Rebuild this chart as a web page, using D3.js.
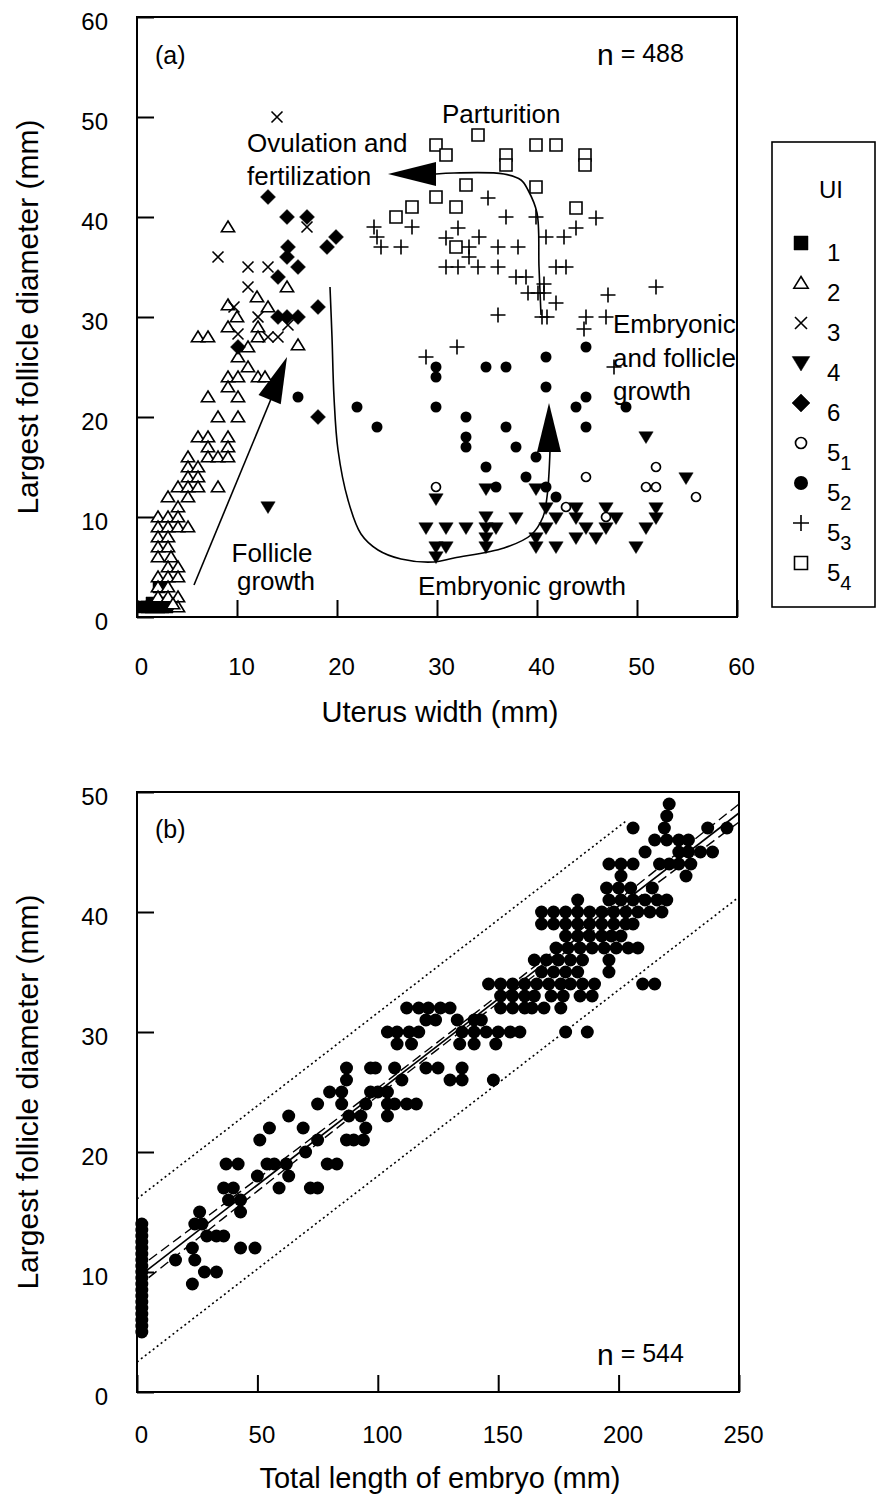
<!DOCTYPE html>
<html>
<head>
<meta charset="utf-8">
<script src="https://d3js.org/d3.v7.min.js"></script>
<style>
  body { margin: 0; background: #fff; }
  svg text { font-family: "Liberation Sans", Arial, sans-serif; fill: #000; }
</style>
</head>
<body>
<div id="chart"></div>
<script>
// ---------------- panel (a) data : [uterus width, largest follicle] ----------------
var ui1 = [[0.6,1],[1.0,1],[1.4,1],[1.8,1],[2.2,1],[2.6,1],[3.0,1],[3.3,1.2],[1.5,1.4],[2.0,1.3],[2.5,1.4],[2.2,3],[2.7,3.2]];
var ui2 = [[9.1,39],[15,33],[12,32],[9.1,31.2],[13.1,31],[10,30],[12.1,29],[9.1,29],[6.1,28],[7.1,28],
  [12.1,28],[16.1,27.2],[11.1,27],[10.1,26],[11.1,25],[9.1,24],[10.1,24],[12.1,24],[12.8,24],[9.1,23],
  [7.1,22],[10.1,22],[8.1,20],[10.1,20],[6.1,18],[7.1,18],[9.1,18],[7.1,17],[9.1,17],[5.1,16],
  [7.1,16],[8.1,16],[9.1,16],[5.1,15],[6.1,15],[5.1,14],[6.1,14],[4.1,13],[5.1,13],[6.1,13],
  [8.1,13],[3.1,12],[5.1,12],[4.1,11],[2.1,10],[3.1,10],[4.1,10],[2.1,9],[3.1,9],[4.1,9],
  [5.1,9],[2.1,8],[3.1,8],[2.1,7],[3.1,7],[2.1,6],[3.4,6],[3.1,5],[4.1,5],[2.1,4],
  [3.1,4],[4.1,4],[2.1,3],[3.1,3],[2.1,2],[3.1,2],[4.1,2],[4.1,1],[3.6,1.3]];
var ui3 = [[14,50],[8.1,36],[17,39],[11.1,35],[13.1,35],[11.1,33],[9.7,31],[12.1,30],[10.1,28.3],
  [13.1,28],[14.1,28],[15.1,29.2]];
var ui4 = [[13.1,11],[50.9,18],[54.9,13.9],[34.9,12.8],[39.9,12.8],[29.9,11.8],[40.9,10.9],[43.9,10.9],
  [46.9,10.9],[51.9,10.9],[34.9,10],[37.9,9.9],[41.9,9.9],[43.9,9.9],[47.9,9.9],[51.9,9.9],[28.9,8.9],
  [30.9,8.9],[32.9,8.9],[34.9,8.9],[35.9,8.9],[40.9,8.9],[44.9,8.9],[46.9,8.9],[50.9,8.9],[39.9,7.9],
  [43.9,7.9],[45.9,7.9],[34.9,7.9],[29.9,7],[30.9,7],[34.9,7],[39.9,7],[41.9,7],[49.9,7],[29.9,6]];
var ui6 = [[13.1,42],[15,40],[17,40],[15.1,37],[15,36],[16.1,35],[19.9,38],[19,37],[14.1,34],[18.1,31],
  [14.1,30],[15,30],[16.1,30],[10.1,27],[18.1,20]];
var ui5_1 = [[29.9,13],[44.9,14],[51.9,15],[50.9,13],[51.9,13],[55.9,12],[42.9,11],[46.9,10]];
var ui5_2 = [[16.1,22],[22,21],[24,19],[29.9,25],[29.9,24],[34.9,25],[36.9,25],[40.9,26],[44.9,27],
  [40.9,23],[29.9,21],[44.9,22],[43.9,21],[48.9,21],[32.9,20],[32.9,18],[32.9,17],[36.9,19],[44.9,19],
  [37.9,17],[39.9,16],[34.9,15],[38.9,14],[35.9,13],[40.9,13],[41.9,12]];
var ui5_3 = [[23.7,39],[24,38],[24.4,37],[26.4,37],[27.5,39],[35.1,41.9],[36.9,40],[39.9,40],[45.9,39.9],
  [32.1,38.9],[30.9,37.9],[34.2,38],[33.2,37],[36.1,37],[38.1,37],[40.9,38],[42.7,38],[43.9,38.9],
  [30.9,35],[32.1,35],[34.1,35],[36.1,35],[33.2,36],[37.9,34],[38.9,34],[41.9,35],[42.9,35],[39.1,32.4],
  [40.1,32.4],[40.7,32.4],[40.7,33.3],[41.9,31.4],[47.1,32.2],[51.9,33],[36.1,30.2],[40.5,30],[41,30],
  [44.9,30],[46.9,30],[44.7,28.8],[28.9,26],[32,27],[47.7,25]];
var ui5_4 = [[34.1,48.2],[29.9,47.2],[30.9,46.2],[36.9,46.2],[36.9,45.2],[39.9,47.2],[41.9,47.2],[44.8,46.2],
  [44.8,45.2],[39.9,43],[32.9,43.2],[29.9,42],[31.9,41],[43.9,40.9],[25.9,40],[27.5,41],[31.9,37]];

// legend labels (main digit, subscript)
var legendLabels = [["1",""],["2",""],["3",""],["4",""],["6",""],["5","1"],["5","2"],["5","3"],["5","4"]];
var ticksA = [0, 10, 20, 30, 40, 50, 60];

// ---------------- panel (b) data : [total length of embryo, largest follicle] ----------------
var panelB = [
  [2,5],[2,6],[2,7],[2,8],[2,9],[2,10],[2,11],[2,12],[2,13],[2,14],[2,5.5],[2,6.5],[2,7.5],[2,8.5],[2,9.5],[2,10.5],[2,11.5],[2,12.5],[2,13.5],
  [221,49],[220,48],[206,47],[219,47],[237,47],[245,47],
  [215,46],[220,46],[225,46],[229,46],
  [211,45],[225,45],[229,45],[234,45],[239,45],
  [196,44],[201,44],[206,44],[217,44],[221,44],[225,44],[230,44],
  [201,43],[228,43],
  [195,42],[200,42],[205,42],[214,42],
  [183,41],[196,41],[201,41],[206,41],[211,41],[216,41],[220,41],
  [168,40],[173,40],[178,40],[183,40],[188,40],[193,40],[198,40],[203,40],[208,40],[213,40],[218,40],
  [168,39],[173,39],[178,39],[183,39],[188,39],[193,39],[198,39],[203,39],[206,39],
  [178,38],[183,38],[188,38],[193,38],[197,38],[201,38],
  [174,37],[179,37],[184,37],[189,37],[194,37],[199,37],[204,37],[208,37],
  [165,36],[170,36],[175,36],[180,36],[185,36],[196,36],
  [168,35],[173,35],[178,35],[183,35],[196,35],
  [146,34],[151,34],[156,34],[161,34],[166,34],[171,34],[176,34],[180,34],[185,34],[190,34],[210,34],[215,34],
  [151,33],[156,33],[161,33],[165,33],[172,33],[177,33],[184,33],[189,33],
  [112,32],[117,32],[121,32],[126,32],[130,32],[151,32],[156,32],[161,32],[164,32],[169,32],[176,32],
  [120,31],[124,31],[133,31],[140,31],[143,31],
  [104,30],[108,30],[113,30],[117,30],[135,30],[140,30],[145,30],[150,30],[155,30],[159,30],[178,30],[187,30],
  [108,29],[114,29],[134,29],[140,29],[149,29],
  [87,27],[97,27],[99,27],[107,27],[120,27],[125,27],[135,27],
  [87,26],[110,26],[130,26],[135,26],[148,26],
  [80,25],[85,25],[97,25],[100,25],[104,25],
  [75,24],[85,24],[95,24],[104,24],[107,24],[112,24],[116,24],
  [63,23],[88,23],[93,23],[104,23],
  [55,22],[69,22],[95,22],
  [51,21],[75,21],[87,21],[90,21],[94,21],
  [70,20],
  [37,19],[42,19],[54,19],[57,19],[62,19],[79,19],[83,19],
  [50,18],[63,18],
  [36,17],[40,17],[59,17],[72,17],[75,17],
  [38,16],[43,16],
  [26,15],[43,15],
  [24,14],[27,14],
  [29,13],[33,13],[36,13],
  [23,12],[43,12],[49,12],
  [16,11],[24,11],
  [28,10],[33,10],
  [23,9]
];
var ticksBx = [0, 50, 100, 150, 200, 250];
var ticksBy = [0, 10, 20, 30, 40, 50];

// fitted line, confidence and prediction bands
var fitIntercept = 9.5, fitSlope = 0.155;
var ciMid = 0.3, ciEnd = 0.75;
var piUpper = 6.6, piLower = -7.0, piUpperEnd = 203;

// ---------------- svg ----------------
var svg = d3.select("#chart").append("svg")
  .attr("width", 878)
  .attr("height", 1501);

var fontFamily = '"Liberation Sans", Arial, sans-serif';

// scales
var xA = d3.scaleLinear().domain([0, 60]).range([137, 737]);
var yA = d3.scaleLinear().domain([0, 60]).range([617, 17]);
var xB = d3.scaleLinear().domain([0, 250]).range([137, 739]);
var yB = d3.scaleLinear().domain([0, 50]).range([1392, 792]);

// marker shapes, s = half size
function shapePath(type, s) {
  switch (type) {
    case "square":  return "M" + (-s) + "," + (-s) + "h" + 2*s + "v" + 2*s + "h" + (-2*s) + "Z";
    case "triUp":   return "M0," + (-s) + "L" + (s*1.1) + "," + (s*0.8) + "L" + (-s*1.1) + "," + (s*0.8) + "Z";
    case "triDown": return "M0," + s + "L" + (s*1.1) + "," + (-s*0.8) + "L" + (-s*1.1) + "," + (-s*0.8) + "Z";
    case "diamond": return "M0," + (-s) + "L" + s + ",0L0," + s + "L" + (-s) + ",0Z";
    case "cross":   return "M" + (-s) + "," + (-s) + "L" + s + "," + s + "M" + s + "," + (-s) + "L" + (-s) + "," + s;
    case "plus":    return "M" + (-s) + ",0H" + s + "M0," + (-s) + "V" + s;
  }
}

function drawMarker(g, type, filled, s) {
  if (type == "circle") {
    g.append("circle").attr("r", s)
      .attr("fill", filled ? "#000" : "#fff")
      .attr("stroke", "#000").attr("stroke-width", filled ? 0 : 1.7);
  } else {
    var open = (type == "cross" || type == "plus");
    g.append("path").attr("d", shapePath(type, s))
      .attr("fill", open ? "none" : (filled ? "#000" : "#fff"))
      .attr("stroke", "#000")
      .attr("stroke-width", filled ? 0.5 : 1.6);
  }
}

var seriesA = [
  {data: ui1,   type: "square",  filled: true,  s: 6,   ls: 7},
  {data: ui2,   type: "triUp",   filled: false, s: 6,   ls: 6.5},
  {data: ui3,   type: "cross",   filled: false, s: 5.5, ls: 6},
  {data: ui4,   type: "triDown", filled: true,  s: 6.5, ls: 8},
  {data: ui6,   type: "diamond", filled: true,  s: 7.5, ls: 9},
  {data: ui5_1, type: "circle",  filled: false, s: 4.5, ls: 5.5},
  {data: ui5_2, type: "circle",  filled: true,  s: 5.5, ls: 7},
  {data: ui5_3, type: "plus",    filled: false, s: 7.5, ls: 8},
  {data: ui5_4, type: "square",  filled: false, s: 6,   ls: 6.5}
];

// axes helper: inward ticks, labels outside
function drawAxes(x, y, xTicks, yTicks, bottom, xPad) {
  var gx = svg.append("g")
    .attr("transform", "translate(0," + bottom + ")")
    .call(d3.axisBottom(x).tickValues(xTicks).tickSizeInner(-17).tickSizeOuter(0).tickPadding(xPad));
  gx.select(".domain").remove();
  gx.selectAll("line").attr("stroke-width", 2);
  gx.selectAll("text").attr("font-size", 24).attr("font-family", fontFamily).attr("dx", 4);

  var gy = svg.append("g")
    .attr("transform", "translate(" + x.range()[0] + ",0)")
    .call(d3.axisLeft(y).tickValues(yTicks).tickSizeInner(-17).tickSizeOuter(0).tickPadding(29));
  gy.select(".domain").remove();
  gy.selectAll("line").attr("stroke-width", 2);
  gy.selectAll("text").attr("font-size", 24).attr("font-family", fontFamily).attr("dy", "0.54em");

  // frame
  svg.append("rect")
    .attr("x", x.range()[0]).attr("y", y.range()[1])
    .attr("width", x.range()[1] - x.range()[0])
    .attr("height", y.range()[0] - y.range()[1])
    .attr("fill", "none").attr("stroke", "#000").attr("stroke-width", 2);
}

function arrowHead(tip, from, len, half) {
  var dx = tip[0] - from[0], dy = tip[1] - from[1];
  var d = Math.sqrt(dx*dx + dy*dy);
  var ux = dx / d, uy = dy / d;
  var bx = tip[0] - ux*len, by = tip[1] - uy*len;
  return [tip, [bx - uy*half, by + ux*half], [bx + uy*half, by - ux*half]];
}

// ****************** panel (a) ***************************
var gA = svg.append("g");

// annotation curves
var lineA = d3.line()
  .x(function(d) { return xA(d[0]); })
  .y(function(d) { return yA(d[1]); })
  .curve(d3.curveCatmullRom);

var uCurve = [[19.3,33],[19.5,28],[19.7,22],[20.1,16.7],[21.1,11.7],[22.4,8.3],[24.1,6.7],[26.4,5.8],
  [29.7,5.5],[31.7,5.9],[36.7,6.9],[39.4,8.2],[40.6,10],[41.0,12],[41.2,14.4],[41.3,16.6]];
var pCurve = [[40.4,30.2],[40.2,35],[40.0,40.4],[39.1,42.7],[38.4,43.7],[36.7,44.3],[31.7,44.4],[29.9,44.3]];
var fArrow = [[5.7,3.2],[13.4,21.8]];

gA.append("path").attr("d", lineA(uCurve)).attr("fill", "none").attr("stroke", "#000").attr("stroke-width", 1.6);
gA.append("path").attr("d", lineA(pCurve)).attr("fill", "none").attr("stroke", "#000").attr("stroke-width", 1.6);
gA.append("path").attr("d", d3.line()(fArrow.map(function(d) { return [xA(d[0]), yA(d[1])]; })))
  .attr("fill", "none").attr("stroke", "#000").attr("stroke-width", 1.6);

var heads = [
  arrowHead([xA(15), yA(26)], [xA(5.7), yA(3.2)], 46, 12),
  arrowHead([xA(25.1), yA(44.3)], [xA(29.9), yA(44.3)], 48, 12),
  arrowHead([xA(41.2), yA(21.4)], [xA(41.2), yA(16.6)], 49, 12)
];
gA.selectAll("polygon.head").data(heads).enter().append("polygon")
  .attr("class", "head")
  .attr("points", function(d) { return d.map(function(p) { return p.join(","); }).join(" "); })
  .attr("fill", "#000");

// markers
seriesA.forEach(function(ser) {
  ser.data.forEach(function(d) {
    var g = gA.append("g").attr("transform", "translate(" + xA(d[0]) + "," + yA(d[1]) + ")");
    drawMarker(g, ser.type, ser.filled, ser.s);
  });
});

drawAxes(xA, yA, ticksA, ticksA, 617, 41);

// panel texts
function addText(x, y, str, size, anchor) {
  return svg.append("text").attr("x", x).attr("y", y)
    .attr("font-size", size).attr("text-anchor", anchor || "start").text(str);
}
addText(155, 64, "(a)", 25);
var nA = svg.append("text").attr("x", 597).attr("y", 65).attr("font-size", 30);
nA.append("tspan").text("n");
nA.append("tspan").attr("font-size", 25).attr("dy", -3).text(" = 488");

addText(247, 152, "Ovulation and", 26);
addText(247, 185, "fertilization", 26);
addText(442, 123, "Parturition", 26);
addText(613, 333, "Embryonic", 26);
addText(613, 367, "and follicle", 26);
addText(613, 400, "growth", 26);
addText(272, 562, "Follicle", 26, "middle");
addText(276, 590, "growth", 26, "middle");
addText(418, 595, "Embryonic growth", 26);

addText(440, 722, "Uterus width (mm)", 29, "middle");
svg.append("text").attr("transform", "translate(38,317) rotate(-90)")
  .attr("font-size", 30).attr("text-anchor", "middle").text("Largest follicle diameter (mm)");

// legend
svg.append("rect").attr("x", 772).attr("y", 142).attr("width", 103).attr("height", 465)
  .attr("fill", "none").attr("stroke", "#000").attr("stroke-width", 1.6);
addText(831, 198, "UI", 24, "middle");
seriesA.forEach(function(ser, i) {
  var cy = 243 + i*40;
  var g = svg.append("g").attr("transform", "translate(801," + cy + ")");
  drawMarker(g, ser.type, ser.filled, ser.ls);
  var t = svg.append("text").attr("x", 827).attr("y", cy + 18).attr("font-size", 24);
  t.append("tspan").text(legendLabels[i][0]);
  if (legendLabels[i][1]) {
    t.append("tspan").attr("font-size", 20).attr("dy", 9).text(legendLabels[i][1]);
  }
});

// ****************** panel (b) ***************************
var gB = svg.append("g");

function fitY(x) { return fitIntercept + fitSlope * x; }
function ciHalf(x) {
  var u = (x - 125) / 125;
  return Math.sqrt(ciMid*ciMid + (ciEnd*ciEnd - ciMid*ciMid) * u * u);
}
var xsFit = d3.range(0, 251, 5);
var lineB = d3.line()
  .x(function(d) { return xB(d[0]); })
  .y(function(d) { return yB(d[1]); });

// prediction interval (dotted)
gB.append("path")
  .attr("d", lineB([[0, fitY(0) + piUpper], [piUpperEnd, fitY(piUpperEnd) + piUpper]]))
  .attr("fill", "none").attr("stroke", "#000").attr("stroke-width", 1.6).attr("stroke-dasharray", "2,3");
gB.append("path")
  .attr("d", lineB([[0, fitY(0) + piLower], [250, fitY(250) + piLower]]))
  .attr("fill", "none").attr("stroke", "#000").attr("stroke-width", 1.6).attr("stroke-dasharray", "2,3");

// dots
gB.selectAll("circle.dot").data(panelB).enter().append("circle")
  .attr("class", "dot")
  .attr("cx", function(d) { return xB(d[0]); })
  .attr("cy", function(d) { return yB(d[1]); })
  .attr("r", 6.5)
  .attr("fill", "#000");

// confidence band (dashed) and fitted line
gB.append("path")
  .attr("d", lineB(xsFit.map(function(x) { return [x, fitY(x) + ciHalf(x)]; })))
  .attr("fill", "none").attr("stroke", "#000").attr("stroke-width", 1.4).attr("stroke-dasharray", "10,5");
gB.append("path")
  .attr("d", lineB(xsFit.map(function(x) { return [x, fitY(x) - ciHalf(x)]; })))
  .attr("fill", "none").attr("stroke", "#000").attr("stroke-width", 1.4).attr("stroke-dasharray", "10,5");
gB.append("path")
  .attr("d", lineB([[0, fitY(0)], [250, fitY(250)]]))
  .attr("fill", "none").attr("stroke", "#000").attr("stroke-width", 1.6);

drawAxes(xB, yB, ticksBx, ticksBy, 1392, 34);

addText(155, 838, "(b)", 25);
var nB = svg.append("text").attr("x", 597).attr("y", 1365).attr("font-size", 30);
nB.append("tspan").text("n");
nB.append("tspan").attr("font-size", 25).attr("dy", -3).text(" = 544");

addText(440, 1488, "Total length of embryo (mm)", 29, "middle");
svg.append("text").attr("transform", "translate(38,1092) rotate(-90)")
  .attr("font-size", 30).attr("text-anchor", "middle").text("Largest follicle diameter (mm)");
</script>
</body>
</html>
